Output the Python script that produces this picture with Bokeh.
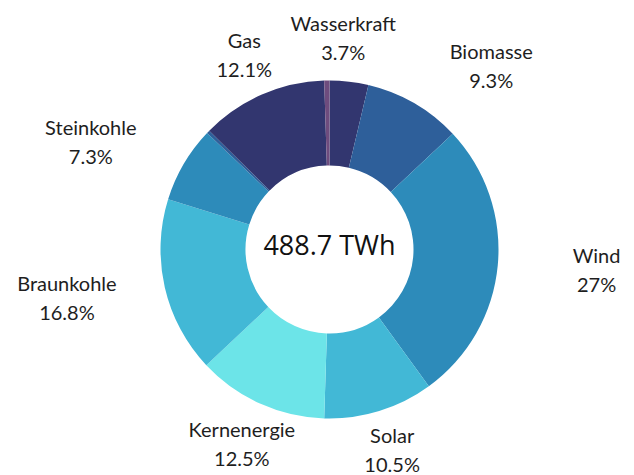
import math
from bokeh.plotting import figure
from bokeh.models import Range1d, ColumnDataSource
from bokeh.core.properties import value
from bokeh.embed import file_html
from bokeh.resources import INLINE

# ---- data ----
sources = ["Wasserkraft", "Biomasse", "Wind", "Solar", "Kernenergie",
           "Braunkohle", "Steinkohle", "Öl", "Gas", "Sonstige"]
shares = [3.7, 9.3, 27.0, 10.5, 12.5, 16.8, 7.3, 0.3, 12.1, 0.5]
colors = ["#32366f", "#2e5f9a", "#2d8bba", "#42b8d6", "#6ce4e8",
          "#42b8d6", "#2d8bba", "#2e5f9a", "#32366f", "#6e4c7e"]
total_label = "488.7 TWh"

# ---- layout (screen-pixel based coordinate system, centre of donut at 0,0) ----
W, H = 634, 475
CX, CY = 329, 249          # donut centre in figure pixels
R_OUT, R_IN = 169, 84
R_LABEL = 213
SIDE_PUSH = 55
label_nudge_x = {"Wasserkraft": -11}
label_nudge_y = {"Solar": 4}

total = sum(shares)
starts, ends, mids = [], [], []
cum = 0.0
for v in shares:
    a0 = math.pi / 2 - 2 * math.pi * cum / total
    cum += v
    a1 = math.pi / 2 - 2 * math.pi * cum / total
    starts.append(a1)
    ends.append(a0)
    mids.append(2 * math.pi * (cum - v / 2) / total)  # clockwise from top

wedges = ColumnDataSource(dict(start=starts, end=ends, color=colors))

p = figure(width=W, height=H, output_backend="svg", toolbar_location=None,
           x_range=Range1d(-CX, W - CX), y_range=Range1d(CY - H, CY),
           min_border=0)
p.axis.visible = False
p.grid.visible = False
p.outline_line_color = None
p.background_fill_color = "white"
p.border_fill_color = "white"

p.annular_wedge(x=0, y=0, inner_radius=R_IN, outer_radius=R_OUT,
                start_angle="start", end_angle="end", color="color",
                line_color=None, source=wedges)

# labels
lx, ly, names, pcts = [], [], [], []
for name, v, m in zip(sources, shares, mids):
    if v < 1:
        continue
    s, c = math.sin(m), math.cos(m)
    x = R_LABEL * s
    if abs(s) >= 0.5:
        x += SIDE_PUSH * (1 if s > 0 else -1)
    x += label_nudge_x.get(name, 0)
    y = R_LABEL * c + label_nudge_y.get(name, 0)
    lx.append(x)
    ly.append(y)
    names.append(name)
    pcts.append(f"{v:g}%")

lab = ColumnDataSource(dict(x=lx, yn=[y + 14.5 for y in ly],
                            yp=[y - 14.5 for y in ly], name=names, pct=pcts))
common = dict(text_align="center", text_baseline="middle",
              text_font=value("Lato"), text_font_size="20px",
              text_color="#1e1e1e", source=lab)
p.text(x="x", y="yn", text="name", **common)
p.text(x="x", y="yp", text="pct", **common)

p.text(x=[0], y=[5], text=[total_label], text_align="center",
       text_baseline="middle", text_font=value("Open Sans"),
       text_font_size="27px", text_color="#111111")

open("out.html", "w").write(file_html(p, INLINE))
